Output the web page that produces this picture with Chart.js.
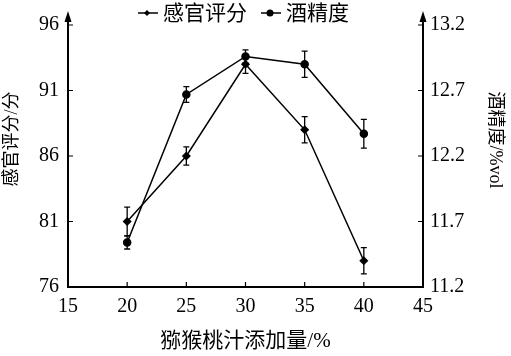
<!DOCTYPE html>
<html>
<head>
<meta charset="utf-8">
<script src="https://cdn.jsdelivr.net/npm/chart.js@4.4.1/dist/chart.umd.min.js"></script>
<style>
  html, body { margin: 0; padding: 0; background: #fff; }
  #wrap { width: 511px; height: 356px; position: relative; }
</style>
</head>
<body>
<div id="wrap"><canvas id="chart"></canvas></div>
<script>
// 数据
const additions = [20, 25, 30, 35, 40];
const sensoryScore = [81.0, 86.0, 93.0, 88.0, 78.0];
const sensoryError = [1.1, 0.7, 0.7, 1.0, 1.0];
const alcohol = [11.54, 12.67, 12.96, 12.90, 12.37];
const alcoholError = [0.05, 0.06, 0.05, 0.10, 0.11];
const xTicks = [15, 20, 25, 30, 35, 40, 45];
const leftTicks = [76, 81, 86, 91, 96];
const rightTicks = [11.2, 11.7, 12.2, 12.7, 13.2];

const FONT = "'Liberation Serif', 'Times New Roman', 'Noto Sans CJK SC', serif";

// 误差线
const errorBars = {
    id: 'errorBars',
    afterDatasetsDraw(chart) {
        const ctx = chart.ctx;
        chart.data.datasets.forEach((ds, i) => {
            const xs = chart.scales.x, ys = chart.scales[ds.yAxisID];
            ctx.save();
            ctx.strokeStyle = '#000';
            ctx.lineWidth = 1.3;
            ds.data.forEach((p, j) => {
                const x = xs.getPixelForValue(p.x);
                const y1 = ys.getPixelForValue(p.y + ds.errors[j]);
                const y2 = ys.getPixelForValue(p.y - ds.errors[j]);
                ctx.beginPath();
                ctx.moveTo(x, y1); ctx.lineTo(x, y2);
                ctx.moveTo(x - 3, y1); ctx.lineTo(x + 3, y1);
                ctx.moveTo(x - 3, y2); ctx.lineTo(x + 3, y2);
                ctx.stroke();
            });
            ctx.restore();
        });
    }
};

// 坐标轴、箭头、内向刻度、图例、纵轴标题
const axesDeco = {
    id: 'axesDeco',
    afterDraw(chart) {
        const ctx = chart.ctx;
        const { left, right, top, bottom } = chart.chartArea;
        const xs = chart.scales.x, yl = chart.scales.yLeft, yr = chart.scales.yRight;
        ctx.save();
        ctx.strokeStyle = '#000';
        ctx.fillStyle = '#000';
        ctx.lineWidth = 2;
        ctx.beginPath();
        ctx.moveTo(left, top - 10); ctx.lineTo(left, bottom); ctx.lineTo(right, bottom); ctx.lineTo(right, top - 10);
        ctx.stroke();
        [left, right].forEach(x => {
            ctx.beginPath();
            ctx.moveTo(x, top - 14);
            ctx.lineTo(x - 3.5, top - 3);
            ctx.lineTo(x + 3.5, top - 3);
            ctx.closePath();
            ctx.fill();
        });
        ctx.lineWidth = 1.2;
        ctx.beginPath();
        leftTicks.forEach(v => { const y = yl.getPixelForValue(v); ctx.moveTo(left, y); ctx.lineTo(left + 5, y); });
        rightTicks.forEach(v => { const y = yr.getPixelForValue(v); ctx.moveTo(right, y); ctx.lineTo(right - 5, y); });
        xTicks.forEach(v => { const x = xs.getPixelForValue(v); ctx.moveTo(x, bottom); ctx.lineTo(x, bottom - 5); });
        ctx.stroke();

        // 纵轴标题
        ctx.font = '18px ' + FONT;
        ctx.textAlign = 'center';
        ctx.textBaseline = 'middle';
        ctx.save();
        ctx.translate(12, 139);
        ctx.rotate(-Math.PI / 2);
        ctx.fillText('感官评分/分', 0, 0);
        ctx.restore();
        ctx.save();
        ctx.translate(495, 140);
        ctx.rotate(Math.PI / 2);
        ctx.fillText('酒精度/%vol', 0, 0);
        ctx.restore();

        // 图例
        ctx.font = '21px ' + FONT;
        ctx.textAlign = 'left';
        let x = 138;
        const ly = 13;
        chart.data.datasets.forEach(ds => {
            ctx.lineWidth = 1.5;
            ctx.beginPath();
            ctx.moveTo(x, ly); ctx.lineTo(x + 20, ly);
            ctx.stroke();
            const cx = x + 9;
            ctx.beginPath();
            if (ds.pointStyle === 'rectRot') {
                ctx.moveTo(cx, ly - 3); ctx.lineTo(cx + 3, ly); ctx.lineTo(cx, ly + 3); ctx.lineTo(cx - 3, ly);
                ctx.closePath();
            } else {
                ctx.arc(cx, ly, 3.5, 0, Math.PI * 2);
            }
            ctx.fill();
            ctx.fillText(ds.label, x + 25, ly + 1);
            x += 25 + ctx.measureText(ds.label).width + 14;
        });
        ctx.restore();
    }
};

const data = {
    datasets: [{
        label: '感官评分',
        data: additions.map((x, i) => ({ x: x, y: sensoryScore[i] })),
        errors: sensoryError,
        yAxisID: 'yLeft',
        borderColor: '#000',
        backgroundColor: '#000',
        borderWidth: 1.5,
        pointStyle: 'rectRot',
        pointRadius: 3.5,
        tension: 0
    }, {
        label: '酒精度',
        data: additions.map((x, i) => ({ x: x, y: alcohol[i] })),
        errors: alcoholError,
        yAxisID: 'yRight',
        borderColor: '#000',
        backgroundColor: '#000',
        borderWidth: 1.5,
        pointStyle: 'circle',
        pointRadius: 3.5,
        tension: 0
    }]
};

const config = {
    type: 'line',
    data: data,
    options: {
        responsive: true,
        maintainAspectRatio: false,
        animation: false,
        layout: { padding: { top: 25, left: 0, right: 0, bottom: 0 } },
        plugins: {
            legend: { display: false },
            tooltip: { enabled: false }
        },
        scales: {
            x: {
                type: 'linear',
                min: 15,
                max: 45,
                afterBuildTicks: s => { s.ticks = xTicks.map(v => ({ value: v })); },
                afterFit: s => { s.height = 69; },
                grid: { display: false, drawTicks: false },
                border: { display: false },
                ticks: { color: '#000', padding: 8, maxRotation: 0, font: { family: FONT, size: 20 } },
                title: { display: true, text: '猕猴桃汁添加量/%', color: '#000', padding: 2, font: { family: FONT, size: 21 } }
            },
            yLeft: {
                position: 'left',
                min: 76,
                max: 96,
                afterBuildTicks: s => { s.ticks = leftTicks.map(v => ({ value: v })); },
                afterFit: s => { s.width = 68; },
                grid: { display: false, drawTicks: false },
                border: { display: false },
                ticks: { color: '#000', padding: 9, font: { family: FONT, size: 20 } }
            },
            yRight: {
                position: 'right',
                min: 11.2,
                max: 13.2,
                afterBuildTicks: s => { s.ticks = rightTicks.map(v => ({ value: v })); },
                afterFit: s => { s.width = 88; },
                grid: { display: false, drawTicks: false },
                border: { display: false },
                ticks: { color: '#000', padding: 7, font: { family: FONT, size: 20 }, callback: v => v.toFixed(1) }
            }
        }
    },
    plugins: [errorBars, axesDeco]
};

new Chart(document.getElementById('chart'), config);
</script>
</body>
</html>
